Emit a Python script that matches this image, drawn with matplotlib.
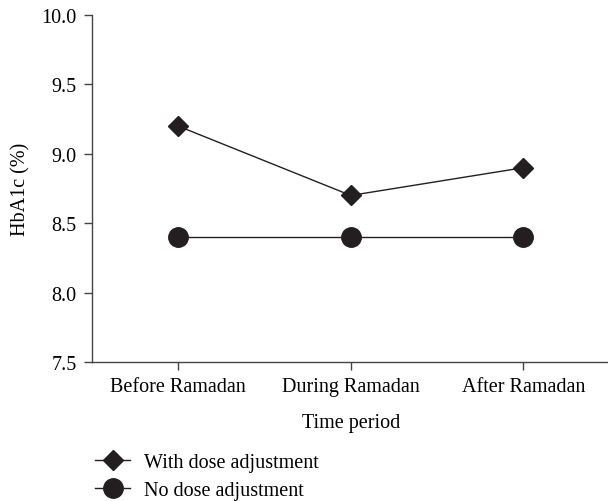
import matplotlib
matplotlib.use('Agg')
import matplotlib.pyplot as plt

plt.rcParams['font.family'] = ['Liberation Serif', 'DejaVu Serif']

periods = ['Before Ramadan', 'During Ramadan', 'After Ramadan']
with_adj = [9.2, 8.7, 8.9]
no_adj = [8.4, 8.4, 8.4]
yticks = [7.5, 8.0, 8.5, 9.0, 9.5, 10.0]

ink = '#231f20'

fig = plt.figure(figsize=(6.08, 5.02), dpi=100)
ax = fig.add_axes([0.151, 0.277, 0.852, 0.691])

x = range(len(periods))
ax.plot(x, with_adj, color=ink, lw=1.0, marker='D', ms=10.5,
        label='With dose adjustment')
ax.plot(x, no_adj, color=ink, lw=1.0, marker='o', ms=14,
        label='No dose adjustment')

ax.set_xlim(-0.5, 2.5)
ax.set_ylim(7.5, 10.0)
ax.set_yticks(yticks)
ax.set_yticklabels(['%.1f' % v for v in yticks])
ax.set_xticks(list(x))
ax.set_xticklabels(periods)
ax.tick_params(labelsize=14.5, length=6, width=1, color='#444444', direction='out', pad=5)
ax.spines['top'].set_visible(False)
ax.spines['right'].set_visible(False)
for s in ['left', 'bottom']:
    ax.spines[s].set_color('#444444')
    ax.spines[s].set_linewidth(1)
ax.set_xlabel('Time period', fontsize=14.5, labelpad=12)
ax.set_ylabel('HbA1c (%)', fontsize=14.5, labelpad=8)

fig.legend(loc='upper left', bbox_to_anchor=(0.14, 0.115), frameon=False,
           fontsize=14.5, handlelength=1.75, handletextpad=0.65, labelspacing=0.4,
           borderpad=0)

fig.savefig('out.png', dpi=100)
